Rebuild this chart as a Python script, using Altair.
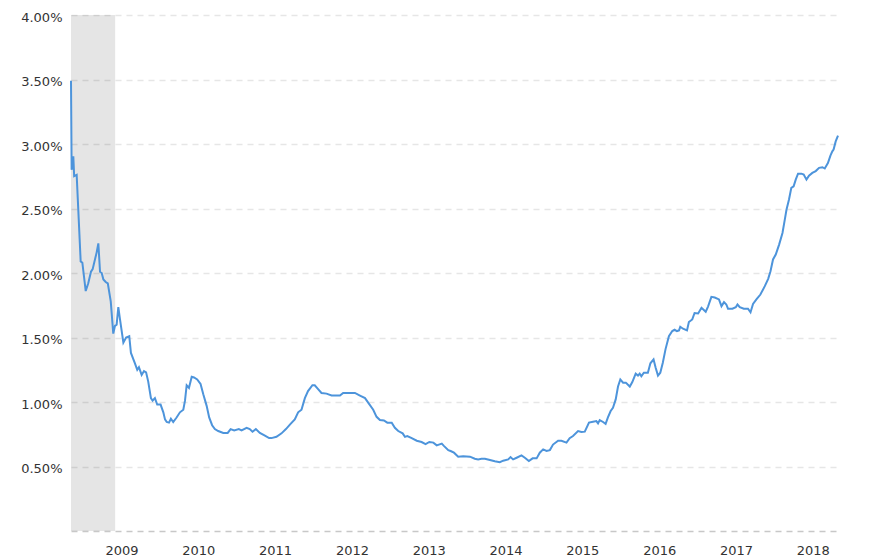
import pandas as pd
import altair as alt

# 12-month rate (percent)
dates = [
    "2008-11-03", "2008-11-06", "2008-11-14", "2008-11-18", "2008-11-30", "2008-12-19", "2008-12-27",
    "2009-01-12", "2009-01-24", "2009-02-06", "2009-02-14", "2009-03-05", "2009-03-13", "2009-03-21",
    "2009-03-29", "2009-04-06", "2009-04-17", "2009-04-27", "2009-05-11", "2009-05-23", "2009-05-31",
    "2009-06-08", "2009-06-16", "2009-06-24", "2009-07-10", "2009-07-23", "2009-08-07", "2009-08-15",
    "2009-09-03", "2009-09-14", "2009-09-22", "2009-10-05", "2009-10-16", "2009-10-26", "2009-11-05",
    "2009-11-18", "2009-11-26", "2009-12-07", "2009-12-18",
    "2010-01-03", "2010-01-16", "2010-01-24", "2010-02-01", "2010-02-12", "2010-02-21", "2010-03-04",
    "2010-03-20", "2010-04-05", "2010-04-21", "2010-04-29", "2010-05-07", "2010-05-18", "2010-05-31",
    "2010-06-11", "2010-06-26", "2010-07-12", "2010-07-25", "2010-08-10", "2010-08-22", "2010-09-05",
    "2010-09-18", "2010-10-04", "2010-10-28", "2010-11-18", "2010-12-02", "2010-12-19",
    "2011-01-10", "2011-01-23", "2011-02-16", "2011-03-03", "2011-03-16", "2011-04-01", "2011-04-20",
    "2011-05-14", "2011-06-03", "2011-06-14", "2011-07-08", "2011-08-01", "2011-08-22", "2011-09-13",
    "2011-10-03", "2011-10-19", "2011-11-04", "2011-11-20", "2011-12-05", "2011-12-26",
    "2012-01-06", "2012-01-22", "2012-02-07", "2012-03-02", "2012-03-26", "2012-05-05", "2012-05-20",
    "2012-07-15", "2012-08-08", "2012-09-01", "2012-09-16", "2012-10-10", "2012-10-26", "2012-11-11",
    "2012-11-30", "2012-12-16",
    "2013-01-06", "2013-01-21", "2013-02-06", "2013-02-27", "2013-03-10", "2013-03-21", "2013-04-11",
    "2013-05-05", "2013-05-28", "2013-06-16", "2013-07-04", "2013-07-23", "2013-08-08", "2013-09-01",
    "2013-09-11", "2013-10-02", "2013-10-13", "2013-10-29", "2013-11-18", "2013-12-12",
    "2014-01-13", "2014-02-05", "2014-02-21", "2014-03-09", "2014-03-25", "2014-04-18", "2014-05-11",
    "2014-06-04", "2014-06-20", "2014-07-14", "2014-07-25", "2014-08-06", "2014-08-23", "2014-09-15",
    "2014-10-01", "2014-10-20", "2014-11-07", "2014-11-26", "2014-12-11", "2014-12-27",
    "2015-01-12", "2015-01-28", "2015-02-12", "2015-03-08", "2015-03-24", "2015-04-17", "2015-05-02",
    "2015-05-18", "2015-06-11", "2015-06-27", "2015-07-13", "2015-08-02", "2015-08-21", "2015-09-06",
    "2015-09-14", "2015-09-22", "2015-10-08", "2015-10-20", "2015-10-31", "2015-11-13", "2015-11-24",
    "2015-12-07", "2015-12-18", "2015-12-29",
    "2016-01-11", "2016-01-24", "2016-02-01", "2016-02-12", "2016-02-24", "2016-03-11", "2016-03-22",
    "2016-03-30", "2016-04-07", "2016-04-19", "2016-05-08", "2016-05-20", "2016-06-04", "2016-06-14",
    "2016-06-25", "2016-07-06", "2016-07-18", "2016-07-31", "2016-08-16", "2016-09-01", "2016-09-12",
    "2016-09-23", "2016-10-03", "2016-10-09", "2016-10-22", "2016-11-10", "2016-11-19", "2016-12-05",
    "2016-12-16",
    "2017-01-02", "2017-01-18", "2017-02-07", "2017-02-18", "2017-03-06", "2017-03-22", "2017-04-11",
    "2017-04-23", "2017-05-05", "2017-05-16", "2017-05-24", "2017-06-14", "2017-06-30", "2017-07-08",
    "2017-07-19", "2017-08-07", "2017-08-27", "2017-09-08", "2017-09-20", "2017-10-06", "2017-10-25",
    "2017-11-15", "2017-12-01", "2017-12-12", "2017-12-24",
    "2018-01-06", "2018-01-22", "2018-02-07", "2018-02-18", "2018-02-26", "2018-03-10", "2018-03-21",
    "2018-04-01", "2018-04-11", "2018-04-22", "2018-05-08", "2018-05-19", "2018-06-01", "2018-06-13",
    "2018-06-29", "2018-07-15", "2018-07-31", "2018-08-16", "2018-08-27", "2018-09-11", "2018-09-23",
    "2018-10-02", "2018-10-08", "2018-10-18", "2018-10-29",
]
rates = [
    3.49, 2.80, 2.905, 2.75, 2.76, 2.09, 2.08,
    1.86, 1.92, 2.01, 2.03, 2.16, 2.23, 2.01,
    2.00, 1.95, 1.93, 1.92, 1.78, 1.53, 1.59,
    1.60, 1.735, 1.64, 1.46, 1.50, 1.51, 1.38,
    1.30, 1.25, 1.27, 1.21, 1.24, 1.23, 1.16,
    1.03, 1.01, 1.03, 0.98,
    0.98, 0.92, 0.865, 0.845, 0.84, 0.87, 0.845,
    0.88, 0.92, 0.94, 1.01, 1.13, 1.11, 1.195,
    1.19, 1.175, 1.14, 1.06, 0.97, 0.88, 0.82,
    0.79, 0.775, 0.76, 0.76, 0.79, 0.78,
    0.79, 0.78, 0.80, 0.79, 0.77, 0.79, 0.76,
    0.74, 0.72, 0.72, 0.73, 0.757, 0.79, 0.83,
    0.865, 0.92, 0.94, 1.03, 1.085, 1.13,
    1.13, 1.10, 1.07, 1.065, 1.05, 1.05, 1.07,
    1.07, 1.05, 1.03, 0.995, 0.94, 0.885, 0.86,
    0.857, 0.84,
    0.84, 0.80, 0.775, 0.757, 0.73, 0.736, 0.72,
    0.70, 0.69, 0.674, 0.69, 0.685, 0.664, 0.677,
    0.66, 0.627, 0.62, 0.607, 0.576, 0.58,
    0.576, 0.56, 0.555, 0.56, 0.56, 0.55, 0.54,
    0.534, 0.545, 0.555, 0.573, 0.555, 0.568, 0.586,
    0.568, 0.542, 0.563, 0.563, 0.607, 0.633,
    0.62, 0.627, 0.67, 0.70, 0.70, 0.685, 0.72,
    0.736, 0.775, 0.767, 0.77, 0.84, 0.847, 0.852,
    0.834, 0.86, 0.845, 0.83, 0.88, 0.93, 0.955,
    1.02, 1.12, 1.175,
    1.15, 1.15, 1.137, 1.12, 1.155, 1.22, 1.205,
    1.22, 1.20, 1.227, 1.227, 1.30, 1.33, 1.265,
    1.205, 1.227, 1.305, 1.41, 1.51, 1.55, 1.56,
    1.55, 1.555, 1.583, 1.568, 1.555, 1.62, 1.64,
    1.69,
    1.686, 1.73, 1.70, 1.74, 1.815, 1.81, 1.795,
    1.743, 1.774, 1.756, 1.723, 1.723, 1.735, 1.756,
    1.735, 1.723, 1.723, 1.696, 1.76, 1.795, 1.833,
    1.898, 1.955, 2.014, 2.105,
    2.143, 2.22, 2.31, 2.414, 2.49, 2.57, 2.66,
    2.672, 2.724, 2.77, 2.77, 2.763, 2.724, 2.755,
    2.776, 2.79, 2.815, 2.82, 2.81, 2.853, 2.91,
    2.943, 2.957, 3.02, 3.065,
]

# recession band (grey)
recession_start = ["2008-11-03"]
recession_end = ["2009-06-01"]

y_ticks = [0, 0.5, 1.0, 1.5, 2.0, 2.5, 3.0, 3.5, 4.0]
x_label_years = list(range(2009, 2019))

df = pd.DataFrame({"date": dates, "rate": rates})
band = pd.DataFrame({"start": recession_start, "end": recession_end})

FONT = "DejaVu Sans"
x_scale = alt.Scale(domain=[dates[0], dates[-1]])
y_scale = alt.Scale(domain=[0, 4], nice=False)

shade = alt.Chart(band).mark_rect(color="black", opacity=0.1).encode(
    x=alt.X("start:T", scale=x_scale),
    x2="end:T",
)

line = alt.Chart(df).mark_line(color="#4d94db", strokeWidth=2).encode(
    x=alt.X(
        "date:T",
        scale=x_scale,
        title=None,
        axis=alt.Axis(
            values=[alt.DateTime(year=y, month=7, date=1) for y in x_label_years],
            format="%Y",
            grid=False,
            domain=False,
            ticks=False,
            tickSize=0,
            labelPadding=13,
            labelFlush=False,
            labelFont=FONT,
            labelFontSize=13,
            labelColor="#333333",
        ),
    ),
    y=alt.Y(
        "rate:Q",
        scale=y_scale,
        title=None,
        axis=alt.Axis(
            values=y_ticks,
            labelExpr="datum.value == 0 ? '' : format(datum.value, '.2f') + '%'",
            grid=True,
            gridDash=[6, 5],
            gridWidth=1.5,
            gridColor={"condition": {"test": "datum.value === 0", "value": "#c8c8c8"},
                       "value": "#e6e6e6"},
            domain=False,
            ticks=False,
            tickSize=0,
            labelPadding=9,
            labelOffset=2,
            labelFont=FONT,
            labelFontSize=13,
            labelColor="#333333",
        ),
    ),
)

chart = (shade + line).properties(
    width=767,
    height=516,
    autosize=alt.AutoSizeParams(type="none"),
    padding={"left": 63, "top": 7, "right": 20, "bottom": 26},
).configure_view(stroke=None)

chart.save("out.html", embed_options={"renderer": "svg", "actions": False})
